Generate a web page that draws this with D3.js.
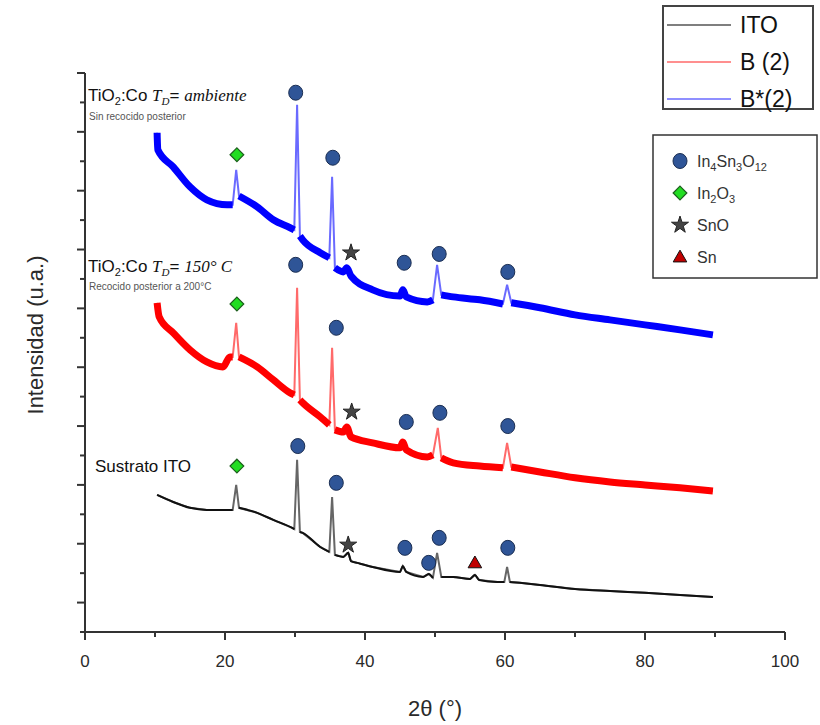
<!DOCTYPE html>
<html>
<head>
<meta charset="utf-8">
<script src="https://cdn.jsdelivr.net/npm/d3@7"></script>
<style>
  body { margin: 0; background: #fff; }
  svg { font-family: "Liberation Sans", Arial, sans-serif; }
</style>
</head>
<body>
<div class="chart-holder"></div>
<script>
// 2theta (deg), intensity (a.u.); third element 1 = peak top
const itoData = [
  [10.3, 466], [12.6, 442], [15.0, 422], [17.4, 415], [20.7, 415], [21.1, 415], [21.6, 500, 1],
  [22.0, 422], [24.6, 405], [26.9, 381], [29.6, 354], [29.9, 350], [30.3, 585, 1], [30.7, 340],
  [31.1, 337], [33.6, 289], [34.9, 272], [35.3, 459, 1], [35.7, 262], [36.9, 255], [37.6, 269],
  [38.0, 241], [38.9, 235], [41.1, 221], [45.0, 204], [45.4, 224], [45.9, 204], [48.3, 187],
  [49.1, 197], [49.7, 184], [50.3, 269, 1], [50.9, 187], [52.6, 187], [55.0, 180], [55.7, 194],
  [56.3, 177], [58.9, 170], [59.9, 170], [60.3, 221, 1], [60.7, 170], [62.1, 167], [65.0, 160],
  [70.0, 146], [75.0, 139], [80.0, 133], [85.0, 126], [89.7, 119]
];
const bData = [
  [10.3, 1119], [10.6, 1071], [12.6, 1017], [15.0, 959], [17.4, 918], [19.7, 901], [20.7, 935],
  [21.1, 935], [21.6, 1051, 1], [22.0, 935], [24.6, 901], [26.9, 857], [29.3, 813], [29.9, 806],
  [30.3, 1170, 1], [30.7, 789], [31.1, 779], [33.6, 731], [34.9, 704], [35.3, 966, 1], [35.7, 687],
  [36.9, 680], [37.4, 697], [38.0, 663], [41.1, 643], [45.0, 626], [45.4, 646], [45.9, 619],
  [48.9, 595], [49.7, 602], [50.4, 694, 1], [50.9, 592], [52.6, 575], [56.4, 564], [59.7, 558],
  [60.3, 643, 1], [60.9, 561], [65.0, 544], [70.0, 524], [75.0, 510], [80.0, 500], [85.0, 490],
  [89.7, 479]
];
const bStarData = [
  [10.3, 1697], [10.4, 1639], [12.6, 1581], [15.0, 1513], [17.4, 1469], [20.3, 1452], [21.1, 1452],
  [21.6, 1571, 1], [22.0, 1482], [24.6, 1445], [26.9, 1401], [29.3, 1374], [29.9, 1367],
  [30.3, 1792, 1], [30.7, 1346], [31.1, 1333], [33.6, 1289], [34.9, 1272], [35.3, 1547, 1],
  [35.7, 1238], [36.9, 1224], [37.4, 1238], [38.0, 1210], [41.1, 1163], [45.0, 1142], [45.4, 1163],
  [45.9, 1139], [48.9, 1122], [49.7, 1129], [50.3, 1248, 1], [50.9, 1146], [52.6, 1139],
  [56.4, 1129], [59.7, 1115], [60.3, 1180, 1], [60.9, 1119], [65.0, 1102], [70.0, 1078],
  [75.0, 1061], [80.0, 1044], [85.0, 1027], [89.7, 1010]
];

// phase markers: [2theta, intensity, phase]
const markers = [
  [21.7, 1622, "In2O3"], [30.1, 1833, "ITO"], [35.4, 1612, "ITO"], [38.0, 1289, "SnO"],
  [45.6, 1255, "ITO"], [50.6, 1285, "ITO"], [60.4, 1224, "ITO"],
  [21.7, 1115, "In2O3"], [30.1, 1248, "ITO"], [35.9, 1034, "ITO"], [38.1, 748, "SnO"],
  [45.9, 714, "ITO"], [50.7, 745, "ITO"], [60.4, 700, "ITO"],
  [21.7, 564, "In2O3"], [30.4, 632, "ITO"], [35.9, 507, "ITO"], [37.6, 296, "SnO"],
  [45.7, 286, "ITO"], [49.1, 235, "ITO"], [50.6, 320, "ITO"], [55.7, 235, "Sn"], [60.4, 286, "ITO"]
];

const xTicks = [0, 10, 20, 30, 40, 50, 60, 70, 80, 90, 100];
const seriesNames = ["ITO", "B (2)", "B*(2)"];
const phaseNames = ["ITO", "In2O3", "SnO", "Sn"];

const width = 820, height = 725;
const svg = d3.select(".chart-holder").append("svg")
  .attr("width", width).attr("height", height);

const x = d3.scaleLinear().domain([0, 100]).range([85, 785]);
const y = d3.scaleLinear().domain([0, 1900]).range([632, 73]);

// axes
const xAxis = svg.append("g").attr("transform", "translate(0,632)");
xAxis.append("line").attr("x1", x(0)).attr("x2", x(100)).attr("stroke", "#333").attr("stroke-width", 2);
xAxis.selectAll(".tk").data(xTicks).join("line")
  .attr("x1", d => x(d)).attr("x2", d => x(d))
  .attr("y1", 0).attr("y2", d => d % 20 === 0 ? 8 : 5)
  .attr("stroke", "#333").attr("stroke-width", 2);
xAxis.selectAll(".lb").data(xTicks.filter(d => d % 20 === 0)).join("text")
  .attr("x", d => x(d)).attr("y", 35).attr("text-anchor", "middle")
  .attr("font-size", 17).attr("fill", "#2a2a2a").text(d => d);

const yAxis = svg.append("g");
yAxis.append("line").attr("x1", 85).attr("x2", 85).attr("y1", y(0) + 1).attr("y2", y(1900))
  .attr("stroke", "#333").attr("stroke-width", 2);
yAxis.selectAll(".tk").data(d3.range(0, 2000, 100)).join("line")
  .attr("x1", d => (d / 100) % 2 === 1 ? 77 : 80).attr("x2", 85)
  .attr("y1", d => y(d)).attr("y2", d => y(d))
  .attr("stroke", "#333").attr("stroke-width", 2);

svg.append("text").attr("x", 435).attr("y", 716).attr("text-anchor", "middle")
  .attr("font-size", 22).attr("fill", "#2a2a2a").text("2θ (°)");
svg.append("text").attr("transform", "translate(43,335) rotate(-90)").attr("text-anchor", "middle")
  .attr("font-size", 22).attr("fill", "#2a2a2a").text("Intensidad (u.a.)");

// spectra
const line = d3.line().x(d => x(d[0])).y(d => y(d[1]));
const band = d3.line().defined(d => !d[2]).x(d => x(d[0])).y(d => y(d[1])).curve(d3.curveMonotoneX);
const spectra = [
  { data: itoData, thin: "#666", thick: "#111", w: 2 },
  { data: bData, thin: "#ff6a6a", thick: "#ff0000", w: 7 },
  { data: bStarData, thin: "#6a6aff", thick: "#0000ff", w: 7 }
];
spectra.forEach(s => {
  svg.append("path").attr("d", line(s.data)).attr("fill", "none")
    .attr("stroke", s.thin).attr("stroke-width", 2);
  svg.append("path").attr("d", band(s.data)).attr("fill", "none")
    .attr("stroke", s.thick).attr("stroke-width", s.w).attr("stroke-linejoin", "round");
});

// marker symbols
function drawMarker(g, phase, cx, cy) {
  if (phase === "ITO") {
    g.append("ellipse").attr("cx", cx).attr("cy", cy).attr("rx", 7).attr("ry", 7.5)
      .attr("fill", "#2f5597").attr("stroke", "#1b2e52").attr("stroke-width", 1);
  } else if (phase === "In2O3") {
    g.append("path").attr("d", d3.symbol(d3.symbolDiamond2, 120)())
      .attr("transform", `translate(${cx},${cy})`)
      .attr("fill", "#22dd22").attr("stroke", "#1d5e1d").attr("stroke-width", 1.2);
  } else if (phase === "SnO") {
    g.append("path").attr("d", d3.symbol(d3.symbolStar, 90)())
      .attr("transform", `translate(${cx},${cy})`)
      .attr("fill", "#444").attr("stroke", "#222").attr("stroke-width", 1);
  } else {
    g.append("path").attr("d", d3.symbol(d3.symbolTriangle, 80)())
      .attr("transform", `translate(${cx},${cy + 1})`)
      .attr("fill", "#c00000").attr("stroke", "#111").attr("stroke-width", 1);
  }
}
const mg = svg.append("g");
markers.forEach(m => drawMarker(mg, m[2], x(m[0]), y(m[1])));

// annotations
function sampleLabel(yb, tail) {
  const t = svg.append("text").attr("x", 88).attr("y", yb).attr("font-size", 17).attr("fill", "#111");
  t.append("tspan").text("TiO");
  t.append("tspan").attr("font-size", 11).attr("dy", 4).text("2");
  t.append("tspan").attr("dy", -4).text(":Co ");
  t.append("tspan").attr("font-family", "'Liberation Serif', serif").attr("font-style", "italic").text("T");
  t.append("tspan").attr("font-family", "'Liberation Serif', serif").attr("font-style", "italic")
    .attr("font-size", 11).attr("dy", 4).text("D");
  t.append("tspan").attr("dy", -4).text("= ");
  t.append("tspan").attr("font-family", "'Liberation Serif', serif").attr("font-style", "italic").text(tail);
}
sampleLabel(101, "ambiente");
svg.append("text").attr("x", 89).attr("y", 120).attr("font-size", 10).attr("fill", "#555")
  .text("Sin recocido posterior");
sampleLabel(272, "150° C");
svg.append("text").attr("x", 89).attr("y", 290).attr("font-size", 10).attr("fill", "#555")
  .text("Recocido posterior a 200°C");
svg.append("text").attr("x", 95).attr("y", 472).attr("font-size", 17).attr("fill", "#111")
  .text("Sustrato ITO");

// series legend
const lg = svg.append("g");
lg.append("rect").attr("x", 663).attr("y", 6).attr("width", 150).attr("height", 103)
  .attr("fill", "#fff").attr("stroke", "#444").attr("stroke-width", 2);
const legColors = ["#555", "#ff6a6a", "#6a6aff"];
seriesNames.forEach((name, i) => {
  const ly = 25 + i * 37;
  lg.append("line").attr("x1", 667).attr("x2", 731).attr("y1", ly).attr("y2", ly)
    .attr("stroke", legColors[i]).attr("stroke-width", 1.5);
  lg.append("text").attr("x", 740).attr("y", ly + 8).attr("font-size", 23).attr("fill", "#111").text(name);
});

// phase legend
const pg = svg.append("g");
pg.append("rect").attr("x", 653).attr("y", 135).attr("width", 164).attr("height", 143)
  .attr("fill", "#fff").attr("stroke", "#333").attr("stroke-width", 1.5);
const phaseLabels = [
  [["In", 0], ["4", 1], ["Sn", 0], ["3", 1], ["O", 0], ["12", 1]],
  [["In", 0], ["2", 1], ["O", 0], ["3", 1]],
  [["SnO", 0]],
  [["Sn", 0]]
];
phaseNames.forEach((p, i) => {
  const ly = 161 + i * 32;
  drawMarker(pg, p, 680, ly);
  const t = pg.append("text").attr("x", 697).attr("y", ly + 6).attr("font-size", 16).attr("fill", "#333");
  let sub = false;
  phaseLabels[i].forEach(([s, isSub]) => {
    const ts = t.append("tspan").text(s);
    if (isSub && !sub) { ts.attr("dy", 4).attr("font-size", 11); sub = true; }
    else if (isSub) { ts.attr("font-size", 11); }
    else if (sub) { ts.attr("dy", -4); sub = false; }
  });
});
</script>
</body>
</html>
